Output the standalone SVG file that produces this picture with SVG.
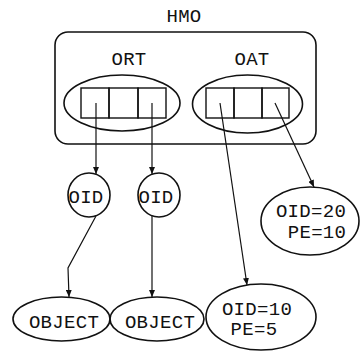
<svg xmlns="http://www.w3.org/2000/svg" width="362" height="352" viewBox="0 0 362 352">
<style>
.s{fill:none;stroke:#111;stroke-width:1.6}
.b{fill:none;stroke:#111;stroke-width:1.4}
.c{fill:none;stroke:#111;stroke-width:1.2}
text{font-family:"Liberation Mono","Courier New",monospace;font-size:19px;letter-spacing:0.3px;fill:#111;text-anchor:middle}
</style>
<defs>
<marker id="ah" markerUnits="userSpaceOnUse" markerWidth="8" markerHeight="6" refX="7" refY="3" orient="auto">
<path d="M0,0 L7,3 L0,6 z" fill="#111"/>
</marker>
</defs>
<g id="hmo">
<text x="184" y="22">HMO</text>
<rect class="s" x="55" y="32" width="261" height="112" rx="13"/>
</g>
<g id="ort">
<text x="129" y="65">ORT</text>
<ellipse class="s" cx="122" cy="103" rx="58" ry="28"/>
<rect class="b" x="81" y="88" width="28" height="30"/>
<rect class="b" x="109" y="88" width="29" height="30"/>
<rect class="b" x="138" y="88" width="28" height="30"/>
</g>
<g id="oat">
<text x="252" y="65">OAT</text>
<ellipse class="s" cx="247.5" cy="104" rx="55" ry="29"/>
<rect class="b" x="206" y="88" width="28" height="30"/>
<rect class="b" x="234" y="88" width="28" height="30"/>
<rect class="b" x="262" y="88" width="27" height="30"/>
</g>
<g id="oid1">
<ellipse class="s" cx="89" cy="195" rx="21" ry="22"/>
<text x="86" y="203">OID</text>
</g>
<g id="oid2">
<ellipse class="s" cx="159" cy="195" rx="21" ry="22"/>
<text x="156" y="203">OID</text>
</g>
<g id="object1">
<ellipse class="s" cx="61.5" cy="319" rx="48.5" ry="22"/>
<text x="64" y="328">OBJECT</text>
</g>
<g id="object2">
<ellipse class="s" cx="157" cy="319" rx="47" ry="22"/>
<text x="160" y="328">OBJECT</text>
</g>
<g id="oid20">
<ellipse class="s" cx="310" cy="221" rx="49" ry="34"/>
<text x="311" y="217">OID=20</text>
<text x="317" y="238">PE=10</text>
</g>
<g id="oid10">
<ellipse class="s" cx="261" cy="317" rx="55" ry="33"/>
<text x="257" y="315">OID=10</text>
<text x="254" y="335">PE=5</text>
</g>
<g id="connectors">
<path class="c" d="M96,103 L96,174" marker-end="url(#ah)"/>
<path class="c" d="M152,103 L152,174" marker-end="url(#ah)"/>
<path class="c" d="M220,103 L247,285" marker-end="url(#ah)"/>
<path class="c" d="M275,103 L314,187" marker-end="url(#ah)"/>
<path class="c" d="M96,216 L68,268 L69,297" marker-end="url(#ah)"/>
<path class="c" d="M152,216 L152,297" marker-end="url(#ah)"/>
</g>
</svg>
